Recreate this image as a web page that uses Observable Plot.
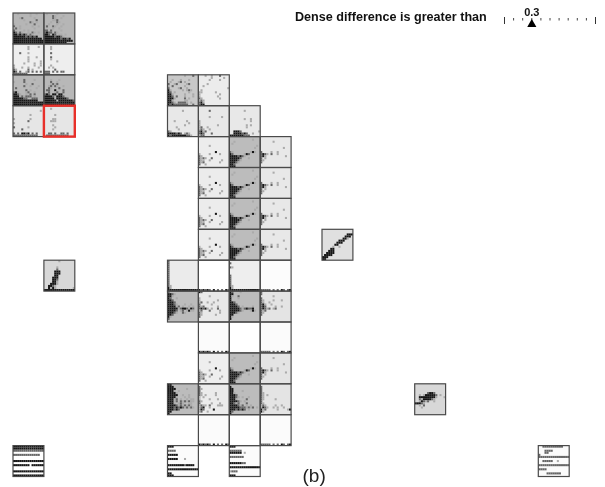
<!DOCTYPE html>
<html><head><meta charset="utf-8">
<script src="https://cdn.jsdelivr.net/npm/d3@7"></script>
<script src="https://cdn.jsdelivr.net/npm/@observablehq/plot@0.6"></script>
<style>
html,body{margin:0;padding:0;background:#fff}
#wrap{position:relative;width:605px;height:487px;overflow:hidden;filter:blur(.4px)}
#wrap svg{position:absolute;left:0;top:0;background:transparent}
#label{position:absolute;left:295px;top:10px;font:bold 12.6px "Liberation Sans",Arial,sans-serif;color:#111;white-space:nowrap}
</style></head><body><div id="wrap"><div id="label">Dense difference is greater than</div></div>
<script>
// Binned cells of every small scatterplot: 15 x 15 characters, '#' darkest … '.' lightest
const top00=["  .     .  .   ","        .      ","   .+     .    ","     .     +   ","        +. .   ",".     .   +    ","+  .     .  .  ",".+ .      .    ","+    . .       ","#+.+.  . +. .  ","##+#+#+.+.     ","######+#+#+#   ","############## ","###############","###############"];
const top10=[" .    .        ","    +.   .     ","    +.  .      ","    ..+        ","   .  +.       ","  .   .  .     "," +  +.  .      ","    .  .       ","++ +    .      ","+#++ +.        ","##+ #+ .. .    ","#####+##+.     ","########+##+#  ","############## ","###########    "];
const top01=["               ","       .    .  ","       .       ","               ","   +   .       ","               ","       .   .   ","       .       ","       .     . ","     .    .  . ",".         .  . ",".   .  .    .  ","+.     + .     ","#+ +  .+ + + + ","+++++++        "];
const top11=["               ","   .           ","   .           ","               ","   +           ","               ","   +           ","   .           ","      .        ","               ","   .           ","  . .          ","     +         ","+++ + + ++     ","+++            "];
const top02=["               ","               ","     +    .    ",".    +         ","      .  +     ","     +  .   .  "," +         .   ","      + .      ","+#.   .+  .    ","##+.  . + +    ","###.+.+++ .    ","#####++  +++   ","############   ","###############","###############"];
const top12=["               ","               ","   .   .       ","   +  .        ","   .+.+        ","  .+ +.  .     ","  +.   +       "," ++  #   +     ","  +  .+  +     ","+#+ ## ##      ","####+ ###+     ","##### #####+   ","###### #######+","###############","###############"];
const top03=["               ","               ","             . ","               ","        .      ","               ",".       .      ","       +       ",".              ","               ","+      .       ","    +          ","               ","+ + ##+# + +   ","++++++++++++   "];
const top13=["               ","   .           ","               ","               ","     .         ","               ","    ..         ","   ...         ","               ","    .          ","     .         ","    .          ","               ","  ++ +  ++ +   "," +++++++++++   "];
const mid25=["        .   +  ","               ","  .   .   .    "," .   .+ .      ","+  .+    .+    ",". +     .      ","+    .+  .     ","#.     . .+.   ","#+ .      .    ","##.     .   .  ","##+ +   .   .  ","###.    + .    ","##.     ..     ","##+. ++++. .   ","#+#+++++++  +  "];
const mid26=["   .  .   +    ","      .     .  ","     .    .    ","               ","    .          ","  .            ","              ."," .             ","..      .      ",".         .    ",".        .     ","+.        .    ",".+.            ","+#.            ","+##            "];
const mid35=["               ","               ","       .       ","               ","               ","               ","               ","   .     .     ","          .    ","        .      ","    .          ","     .         ","+.              ","####+#+ .+.    ","#+#######++.   "].map(s=>s.slice(0,15));
const mid36=["               ","               ","     +         ","               ","               ","     .     .   ","               ",".              ",".              ",".        .     ",".+  .          ",".+.  .         ","+#.+           ","+#+   +        ",".++            "];
const mid37=["               ","               ","       .       ","               ","               ","               ","       .  .    ","          .    ","               ","        . .    ","        .      ","               ","  ###+        .","  ####+#+  .   ","#######+++     "];
const col6=["               ","               ","               ","               ","     .         ","               ","               ","        #      ",".    .    .    ","+.             ","+.+.  +        ","+..  .     .   ","+.+       .    ","+  .           ","               "];
const col7=["               ","           .   ","  .            "," .             ","             . ","            .  ","               ","+.        .#.  ","#+     .#+     ","####+#+.       ","#####+   .     ","####+.         ","###+.          ","##+            ","###            "];
const col8=["               ","               ","      .        ","               ","               ","           .   ","               ","+    .  .      ","+#+. +  .      ","+#.         .  ","+ .            ","+.             ","+              ","               ","               "];
const col8Lines=["               ","               ","               ","               ","               ","               ","               ","               ","               ","               ","               ","               ","               ","               ","+++++ + + #+ +#"];
const r8c5=["+              ","+              ","+              ","+              ","+              ","+              ","+              ","+              ","+              ","+              ","+              ","+              ","+.             ","#.             ","###############"];
const r8c6=["               ","               ","               ","               ","               ","               ","               ","               ","               ","               ","               ","               ","               ","               ","#+#+#+ # + + #+"];
const r8c7=["               ","+              ","               ","+.             ","               ","               ","               ","+              ","+              ","+              ","+              ","+              ","+.             ","#.             ","###############"];
const blankCells=r8c6.map(()=>" ".repeat(15));
const r9c5=["+              ","##+.           ","##.            ","#+  .          ","##+            ","###+           ","###+.   .  .   ","####.+ .  . .  ","#####.+##+.#+  ","####+ .+ .#..  ","###+.  +.      ","##+            ","#.             ","+              ","               "];
const r9c6=["#+             ","               ","     .         ",".              ",".        .     ",".+  .  .       ","+     .        ","+.+      .     ","+#+#. .  +     ",".+   +    .    ","+.        .    ","+.      .      ","+              ","               ","               "];
const r9c7=["#+   .         ","##             ","#.  +          ","#   .          ","#              ","##+            ","###+           ","####+ .    .   ","#####+.+#++#   ","#####+.   .#.  ","###+.          ","##             ","#.             ","#              ","               "];
const r9c8=["+              ","+              ","      .        ","+              ","+.    .   .    ","+.  .          ","+#.  .         ","+#+    .  .    ","+#+.+ .+       ","+.+            ","+.             ","+              ","               ","               ","               "];
const r12c5=["##             ","###            ","####     .     ","###. .         ","####.          ","#####  .  .    ","####.   . .    ","###.+ .  . ..  ","###.+ +.+.+..  ","###. .+.  ..   ","####+.+.+.+.   ","###+#+#+.+.+.  ","###+#+         ","##             ","#              "];
const r12c6=["               ","+              ","+.             ","+              ","+.      .      ","+. .    .      ",". .            ",".    .   .     ","+.             ","+     .   .    ",".+.. +   ...   ",".+#  .         ",".#+    #       ",".+  .          ","               "];
const r12c7=["               ","#              ","##             ","##    .        ","##.            ","###+           ","###+. .  .     ","###.    +      ","####+. .       ","##+.+   +      ","####+.+ . .    ","#####+++.+.+ . ","###+#+#+ .     ","#+             ","#              "];
const r12c8=["               ","+              ","+              ","+              ","+.             ","+. .           ","+.             ","+.     .       ","+              ","+.             ",".+.    .  .    ",".#+.  . .  .   ","#.+     .    .#","#.             ","               "];
const stripeA=["###############","###############","+++++++++++++++","               ","+++++++++++++  ","               ","               ","###############","               ","######## ######","               ","               ","###############","               ","###############"];
const stripeB=["###            ","               ","++++           ","               ","#####          ","               ","#####   .      ","               ","               ","########+####  ","               ","###############","               ","##             ","###            "];
const stripeC=["###            ","               ","++++++         ","###### .       ","               ","+++++++        ","               ","               ","######++       ","               ","###############","               ",".+++           ","               ","###            "];
const stripeD=["  ++++++++++   ","               ","   ++++        ","   ++          ","+              ","+++++++++++++++","               ","  +++++  .     ","               ","+++++++++++++++","               ","++++           ","               ","    +++++++    ","               "];
const diag=["               ","               ","            ###","           ### ","          ##.  ","        ###    ","       ###     ","      ##       ","     .  .      ","    ##         ","   ###         ","  ####         "," ####          ","###            ","##             "];
const blobA=["       .       ","               ","               ","      .        ","      +        ","     ###       ","     ###       ","     ##        ","    ###        ","    ##+        ","    ##.        ","   ###.        ","  ##+.         ","  #.#.        .","###############"];
const blobB=["               ","               ","               ","               ","      +##+     ","  . .#####+ .  ","  ########.   .","  +.####+.     ","  .#+.+  .     ","###+.          ","  . +          ","   .           ","               ","               ","               "];

// Panels: column, row, background, pattern
const panelCol=[0,1,0,1,0,1,0,1, 5,6, 5,6,7, 6,7,8, 6,7,8, 6,7,8, 6,7,8, 5,6,7,8, 5,6,7,8, 6,7,8, 6,7,8, 5,6,7,8, 6,7,8, 0,5,7,17, 10,1,13];
const panelRow=[0,0,1,1,2,2,3,3, 2,2, 3,3,3, 4,4,4, 5,5,5, 6,6,6, 7,7,7, 8,8,8,8, 9,9,9,9, 10,10,10, 11,11,11, 12,12,12,12, 13,13,13, 14,14,14,14, 7,8,12];
const panelBg=["#b6b6b6","#b6b6b6","#eeeeee","#eeeeee","#b8b8b8","#b8b8b8","#e6e6e6","#e6e6e6",
 "#c8c8c8","#ececec","#e8e8e8","#e8e8e8","#e8e8e8",
 "#ececec","#bcbcbc","#e8e8e8","#ececec","#bcbcbc","#e8e8e8","#ececec","#bcbcbc","#e8e8e8","#ececec","#bcbcbc","#e8e8e8",
 "#ebebeb","#ffffff","#eeeeee","#fcfcfc","#bcbcbc","#e8e8e8","#bcbcbc","#e4e4e4",
 "#fbfbfb","#ffffff","#fbfbfb","#eeeeee","#bcbcbc","#e4e4e4","#bcbcbc","#ebebeb","#bcbcbc","#e4e4e4",
 "#fbfbfb","#ffffff","#fbfbfb","#ffffff","#fbfbfb","#fbfbfb","#fbfbfb","#e0e0e0","#d8d8d8","#d8d8d8"];
const panelPattern=[top00,top10,top01,top11,top02,top12,top03,top13,
 mid25,mid26,mid35,mid36,mid37,
 col6,col7,col8,col6,col7,col8,col6,col7,col8,col6,col7,col8,
 r8c5,r8c6,r8c7,col8Lines,r9c5,r9c6,r9c7,r9c8,
 r8c6,blankCells,col8Lines,col6,col7,col8,r12c5,r12c6,r12c7,r12c8,
 r8c6,blankCells,col8Lines,stripeA,stripeB,stripeC,stripeD,diag,blobA,blobB];
const highlight=[[1,3]];

const shade={"#":"#161616","+":"#666666",".":"#ababab"};
const panels=panelCol.map((c,i)=>({c,r:panelRow[i],bg:panelBg[i],rows:panelPattern[i]}));
const cells=panels.flatMap(p=>p.rows.flatMap((s,j)=>[...s].flatMap((ch,i)=>shade[ch]?[{
  x1:p.c+i/15,x2:p.c+(i+1)/15,y1:p.r+j/15,y2:p.r+(j+1)/15,fill:shade[ch]}]:[])));

const chart=Plot.plot({
  width:605,height:487,margin:0,
  x:{domain:[0,19],range:[13,600.1],axis:null},
  y:{domain:[0,15],range:[13,476.5],axis:null},
  marks:[
    Plot.rect(panels,{x1:"c",x2:d=>d.c+1,y1:"r",y2:d=>d.r+1,fill:"bg",inset:0}),
    Plot.rect(cells,{x1:"x1",x2:"x2",y1:"y1",y2:"y2",fill:"fill",inset:0}),
    Plot.rect(panels,{x1:"c",x2:d=>d.c+1,y1:"r",y2:d=>d.r+1,stroke:"#4a4a4a",strokeWidth:1.2,fill:"none",inset:0}),
    Plot.rect(highlight,{x1:d=>d[0],x2:d=>d[0]+1,y1:d=>d[1],y2:d=>d[1]+1,stroke:"#e8302a",strokeWidth:2.4,fill:"none",inset:0}),
    Plot.text(["(b)"],{x:[9.73],y:[14.95],fontSize:19,fontFamily:"Liberation Sans, Arial, sans-serif",fill:"#222"})
  ]
});
document.getElementById("wrap").appendChild(chart);

// Threshold slider
const sliderTicks=[0,.1,.2,.3,.4,.5,.6,.7,.8,.9,1];
const sliderEnds=[0,1];
const sliderValue=[0.3];
const slider=Plot.plot({
  width:605,height:40,margin:0,
  x:{domain:[0,1],range:[504,595],axis:null},
  y:{domain:[0,40],range:[0,40],axis:null},
  marks:[
    Plot.ruleX(sliderTicks,{x:d=>d,y1:18,y2:20.5,stroke:"#444",strokeWidth:1}),
    Plot.ruleX(sliderEnds,{x:d=>d,y1:17,y2:24,stroke:"#333",strokeWidth:1}),
    Plot.dot(sliderValue,{x:d=>d,y:23.9,symbol:"triangle",r:3.4,fill:"#000"}),
    Plot.text(sliderValue,{x:d=>d,y:12,text:d=>String(d),fontSize:11,fontWeight:"bold",fontFamily:"Liberation Sans, Arial, sans-serif",fill:"#111"})
  ]
});
document.getElementById("wrap").appendChild(slider);
</script></body></html>
